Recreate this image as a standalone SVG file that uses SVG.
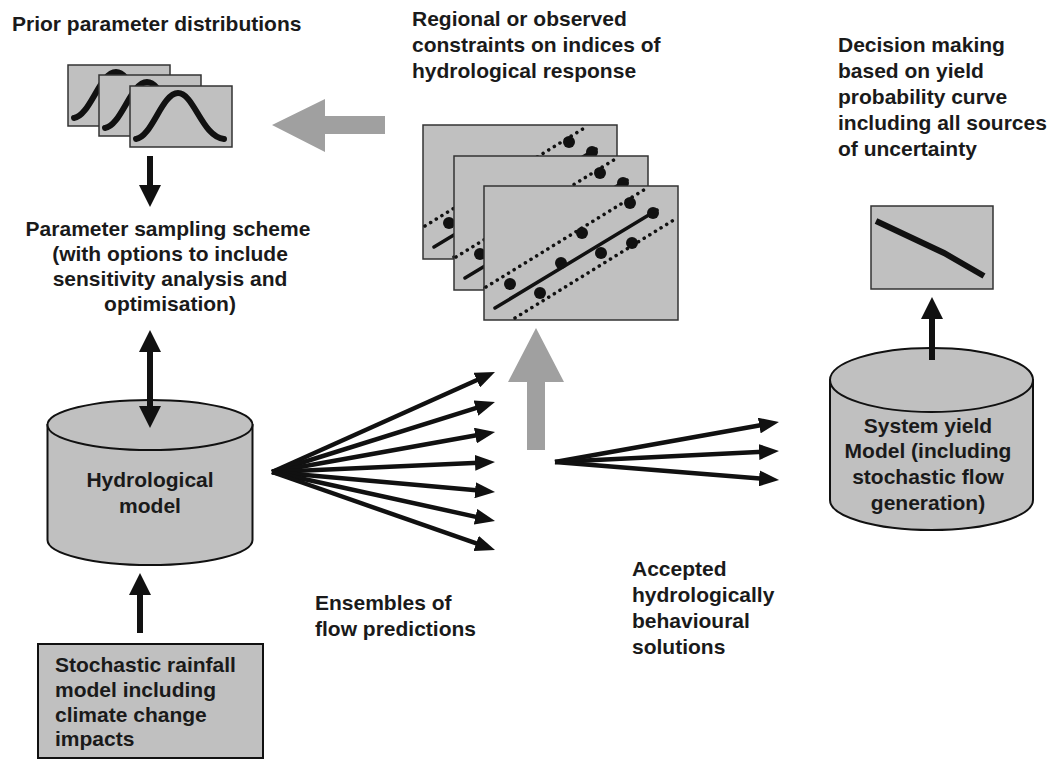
<svg xmlns="http://www.w3.org/2000/svg" width="1061" height="760" viewBox="0 0 1061 760">
<style>
text{font-family:"Liberation Sans",Arial,sans-serif;font-weight:bold;font-size:21px;fill:#1a1a1a}
.c{text-anchor:middle}
.frame{fill:#c0c0c0;stroke:#333;stroke-width:1.5}
.shape{fill:#c0c0c0;stroke:#111;stroke-width:2}
.bell{fill:none;stroke:#111;stroke-width:6;stroke-linecap:round}
.dot{fill:#111}
.dl{stroke:#111;stroke-width:3.5;stroke-dasharray:0.1 6.5;stroke-linecap:round;fill:none}
.sl{stroke:#111;stroke-width:3.5;fill:none;stroke-linecap:round}
.ar{stroke:#111;stroke-width:4.5;fill:none}
.arT{stroke:#111;stroke-width:6;fill:none}
.gray{fill:#a0a0a0}
</style>
<defs>
<marker id="ah" markerUnits="userSpaceOnUse" markerWidth="20" markerHeight="16" refX="4" refY="8" orient="auto"><path d="M0,0 L20,8 L0,16 z" fill="#111"/></marker>
<marker id="ahL" markerUnits="userSpaceOnUse" markerWidth="22" markerHeight="22" refX="4" refY="11" orient="auto-start-reverse"><path d="M0,0 L22,11 L0,22 z" fill="#111"/></marker>
<g id="bellFrame"><rect class="frame" x="0" y="0" width="102" height="61"/><path class="bell" d="M6,53 C22,51 32,7 48,7 C64,7 72,51 94,53"/></g>
<g id="scatterFrame"><rect class="frame" x="0" y="0" width="194" height="134"/>
<path class="dl" d="M2,101 L163,2"/><path class="sl" d="M11,122 L173,24"/><path class="dl" d="M31,132 L193,32"/>
<circle class="dot" cx="26" cy="98" r="6"/><circle class="dot" cx="56" cy="107" r="6"/><circle class="dot" cx="77" cy="77" r="6"/><circle class="dot" cx="98" cy="47" r="6"/><circle class="dot" cx="117" cy="67" r="6"/><circle class="dot" cx="148" cy="57" r="6"/><circle class="dot" cx="146" cy="17" r="6"/><circle class="dot" cx="169" cy="27" r="6"/></g>
</defs>
<rect width="1061" height="760" fill="#fff"/>

<g id="prior">
<text x="12" y="31">Prior parameter distributions</text>
<use href="#bellFrame" x="68" y="65"/>
<use href="#bellFrame" x="99" y="75"/>
<use href="#bellFrame" x="130" y="86"/>
</g>

<g id="sampling">
<text class="c" x="168" y="236">Parameter sampling scheme</text>
<text class="c" x="170" y="261">(with options to include</text>
<text class="c" x="170" y="286">sensitivity analysis and</text>
<text class="c" x="170" y="311">optimisation)</text>
</g>

<g id="regional">
<text x="412" y="26">Regional or observed</text>
<text x="412" y="52">constraints on indices of</text>
<text x="412" y="78">hydrological response</text>
<use href="#scatterFrame" x="423" y="125"/>
<use href="#scatterFrame" x="454" y="156"/>
<use href="#scatterFrame" x="484" y="186"/>
</g>

<g id="decision">
<text x="838" y="52">Decision making</text>
<text x="838" y="78">based on yield</text>
<text x="838" y="104">probability curve</text>
<text x="838" y="130">including all sources</text>
<text x="838" y="156">of uncertainty</text>
<rect class="frame" x="871" y="206" width="122" height="83"/>
<path d="M876,221 L944,253 L984,276" fill="none" stroke="#111" stroke-width="6"/>
</g>

<g id="hydro">
<path class="shape" d="M47.5,425 L47.5,540 A102.5,25 0 0 0 252.5,540 L252.5,425 Z"/>
<ellipse class="shape" cx="150" cy="425" rx="102.5" ry="25"/>
<text class="c" x="150" y="487">Hydrological</text>
<text class="c" x="150" y="513">model</text>
</g>

<g id="system">
<path class="shape" d="M830,380 L830,500 A101.5,30 0 0 0 1033,500 L1033,380 Z"/>
<ellipse class="shape" cx="931.5" cy="380" rx="101.5" ry="32"/>
<text class="c" x="928" y="433">System yield</text>
<text class="c" x="928" y="458">Model (including</text>
<text class="c" x="928" y="484">stochastic flow</text>
<text class="c" x="928" y="510">generation)</text>
</g>

<g id="rainfall">
<rect class="shape" x="38" y="644" width="225" height="114"/>
<text x="55" y="672">Stochastic rainfall</text>
<text x="55" y="697">model including</text>
<text x="55" y="722">climate change</text>
<text x="55" y="746">impacts</text>
</g>

<g id="ensembles">
<text x="315" y="610">Ensembles of</text>
<text x="315" y="636">flow predictions</text>
</g>

<g id="accepted">
<text x="632" y="576">Accepted</text>
<text x="632" y="602">hydrologically</text>
<text x="632" y="628">behavioural</text>
<text x="632" y="654">solutions</text>
</g>

<g id="connectors">
<polygon class="gray" points="272,125 325,99 325,116 385,116 385,134 325,134 325,152"/>
<polygon class="gray" points="536,328 564,382 545,382 545,450 527,450 527,382 508,382"/>
<line class="arT" x1="150" y1="156" x2="150" y2="189" marker-end="url(#ahL)"/>
<line class="arT" x1="150" y1="348" x2="150" y2="410" marker-start="url(#ahL)" marker-end="url(#ahL)"/>
<line class="arT" x1="140" y1="633" x2="140" y2="591" marker-end="url(#ahL)"/>
<line class="arT" x1="932" y1="360" x2="932" y2="315" marker-end="url(#ahL)"/>
<g class="ar">
<line x1="272" y1="472" x2="480.4" y2="378.5" marker-end="url(#ah)"/>
<line x1="272" y1="472" x2="479.7" y2="406.8" marker-end="url(#ah)"/>
<line x1="272" y1="472" x2="479.3" y2="434.8" marker-end="url(#ah)"/>
<line x1="272" y1="472" x2="479.0" y2="462.7" marker-end="url(#ah)"/>
<line x1="272" y1="472" x2="479.1" y2="490.6" marker-end="url(#ah)"/>
<line x1="272" y1="472" x2="479.4" y2="517.6" marker-end="url(#ah)"/>
<line x1="272" y1="472" x2="479.9" y2="544.7" marker-end="url(#ah)"/>
<line x1="555" y1="462" x2="763.2" y2="424.8" marker-end="url(#ah)"/>
<line x1="555" y1="462" x2="763.0" y2="451.8" marker-end="url(#ah)"/>
<line x1="555" y1="462" x2="763.1" y2="478.7" marker-end="url(#ah)"/>
</g>
</g>
</svg>
